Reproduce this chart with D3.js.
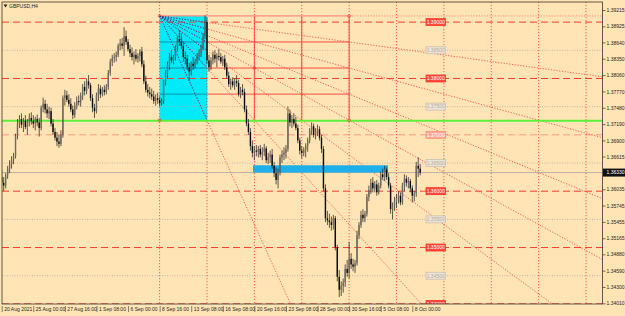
<!DOCTYPE html>
<html>
<head>
<meta charset="utf-8">
<script src="https://cdn.jsdelivr.net/npm/d3@7"></script>
<style>
  body { margin: 0; background: #ffe4b5; }
  svg { display: block; }
  text { font-family: "Liberation Sans", Arial, sans-serif; }
</style>
</head>
<body>
<script>
const WIDTH = 625;
const HEIGHT = 316;

// H4 bars, 20 Aug 2021 08:00 .. 8 Oct 2021 16:00 : [open, high, low, close]
const candles = [
  [1.3625,1.3638,1.3610,1.3615],[1.3615,1.3625,1.3600,1.3610],[1.3610,1.3632,1.3605,1.3628],[1.3628,1.3645,1.3622,1.3640],
  [1.3640,1.3655,1.3632,1.3648],[1.3648,1.3662,1.3640,1.3655],[1.3655,1.3668,1.3648,1.3662],[1.3662,1.3702,1.3658,1.3698],[1.3698,1.3728,1.3692,1.3720],[1.3720,1.3735,1.3712,1.3728],
  [1.3728,1.3738,1.3712,1.3718],[1.3718,1.3730,1.3705,1.3725],[1.3725,1.3735,1.3710,1.3714],[1.3714,1.3728,1.3700,1.3722],[1.3722,1.3738,1.3715,1.3730],[1.3730,1.3740,1.3718,1.3724],
  [1.3724,1.3735,1.3712,1.3720],[1.3720,1.3732,1.3708,1.3728],[1.3728,1.3736,1.3715,1.3722],[1.3722,1.3730,1.3697,1.3712],[1.3712,1.3752,1.3708,1.3748],[1.3748,1.3766,1.3740,1.3755],
  [1.3755,1.3762,1.3738,1.3745],[1.3745,1.3755,1.3730,1.3738],[1.3738,1.3750,1.3728,1.3742],[1.3742,1.3748,1.3715,1.3720],[1.3720,1.3728,1.3700,1.3705],[1.3705,1.3712,1.3690,1.3695],
  [1.3695,1.3705,1.3680,1.3688],[1.3688,1.3700,1.3677,1.3684],[1.3684,1.3708,1.3680,1.3700],[1.3700,1.3770,1.3695,1.3765],[1.3765,1.3780,1.3752,1.3770],[1.3770,1.3778,1.3758,1.3762],
  [1.3762,1.3772,1.3750,1.3755],[1.3755,1.3765,1.3740,1.3745],[1.3745,1.3752,1.3728,1.3735],[1.3735,1.3758,1.3730,1.3752],[1.3752,1.3768,1.3745,1.3760],[1.3760,1.3770,1.3752,1.3758],
  [1.3758,1.3775,1.3750,1.3770],[1.3770,1.3790,1.3762,1.3785],[1.3785,1.3795,1.3770,1.3778],[1.3778,1.3800,1.3772,1.3795],[1.3795,1.3806,1.3782,1.3788],[1.3788,1.3792,1.3760,1.3765],
  [1.3765,1.3772,1.3740,1.3748],[1.3748,1.3755,1.3730,1.3742],[1.3742,1.3775,1.3738,1.3770],[1.3770,1.3790,1.3760,1.3782],[1.3782,1.3788,1.3765,1.3772],[1.3772,1.3785,1.3768,1.3780],
  [1.3780,1.3788,1.3770,1.3776],[1.3776,1.3790,1.3772,1.3785],[1.3785,1.3815,1.3780,1.3810],[1.3810,1.3835,1.3805,1.3830],[1.3830,1.3842,1.3822,1.3836],[1.3836,1.3845,1.3828,1.3838],
  [1.3838,1.3848,1.3830,1.3842],[1.3842,1.3862,1.3838,1.3858],[1.3858,1.3870,1.3850,1.3862],[1.3862,1.3872,1.3852,1.3858],[1.3858,1.3891,1.3840,1.3875],[1.3875,1.3885,1.3860,1.3865],
  [1.3865,1.3870,1.3848,1.3852],[1.3852,1.3860,1.3838,1.3845],[1.3845,1.3855,1.3832,1.3838],[1.3838,1.3848,1.3825,1.3842],[1.3842,1.3852,1.3830,1.3835],[1.3835,1.3845,1.3828,1.3840],
  [1.3840,1.3852,1.3830,1.3848],[1.3848,1.3856,1.3820,1.3825],[1.3825,1.3832,1.3790,1.3795],[1.3795,1.3805,1.3775,1.3780],[1.3780,1.3790,1.3768,1.3775],[1.3775,1.3785,1.3765,1.3772],
  [1.3772,1.3782,1.3762,1.3768],[1.3768,1.3778,1.3755,1.3760],[1.3760,1.3772,1.3752,1.3765],[1.3765,1.3775,1.3755,1.3762],[1.3762,1.3768,1.3750,1.3756],[1.3756,1.3765,1.3752,1.3760],
  [1.3760,1.3798,1.3755,1.3795],[1.3795,1.3815,1.3788,1.3810],[1.3810,1.3830,1.3800,1.3825],[1.3825,1.3845,1.3815,1.3838],[1.3838,1.3850,1.3828,1.3832],[1.3832,1.3842,1.3825,1.3838],
  [1.3838,1.3860,1.3832,1.3855],[1.3855,1.3875,1.3848,1.3870],[1.3870,1.3886,1.3858,1.3865],[1.3865,1.3880,1.3852,1.3858],[1.3858,1.3865,1.3830,1.3838],[1.3838,1.3848,1.3825,1.3835],
  [1.3835,1.3842,1.3815,1.3820],[1.3820,1.3828,1.3797,1.3812],[1.3812,1.3830,1.3805,1.3826],[1.3826,1.3838,1.3815,1.3822],[1.3822,1.3835,1.3818,1.3830],[1.3830,1.3845,1.3825,1.3840],
  [1.3840,1.3852,1.3832,1.3845],[1.3845,1.3860,1.3838,1.3855],[1.3855,1.3880,1.3850,1.3875],[1.3875,1.3912,1.3870,1.3900],[1.3900,1.3908,1.3825,1.3832],[1.3832,1.3842,1.3812,1.3820],
  [1.3820,1.3838,1.3815,1.3832],[1.3832,1.3848,1.3825,1.3842],[1.3842,1.3850,1.3828,1.3835],[1.3835,1.3845,1.3820,1.3840],[1.3840,1.3852,1.3832,1.3838],[1.3838,1.3845,1.3826,1.3830],
  [1.3830,1.3840,1.3822,1.3835],[1.3835,1.3842,1.3815,1.3820],[1.3820,1.3828,1.3800,1.3805],[1.3805,1.3812,1.3785,1.3790],[1.3790,1.3800,1.3780,1.3795],[1.3795,1.3802,1.3784,1.3788],
  [1.3788,1.3800,1.3780,1.3795],[1.3795,1.3806,1.3785,1.3792],[1.3792,1.3798,1.3768,1.3772],[1.3772,1.3785,1.3765,1.3780],[1.3780,1.3790,1.3770,1.3776],[1.3776,1.3782,1.3740,1.3745],
  [1.3745,1.3752,1.3715,1.3720],[1.3720,1.3728,1.3700,1.3705],[1.3705,1.3712,1.3672,1.3680],[1.3680,1.3690,1.3660,1.3668],[1.3668,1.3680,1.3655,1.3672],[1.3672,1.3682,1.3662,1.3670],
  [1.3670,1.3680,1.3660,1.3675],[1.3675,1.3682,1.3660,1.3665],[1.3665,1.3678,1.3655,1.3670],[1.3670,1.3684,1.3662,1.3676],[1.3676,1.3680,1.3650,1.3655],[1.3655,1.3668,1.3648,1.3660],
  [1.3660,1.3672,1.3650,1.3665],[1.3665,1.3675,1.3640,1.3645],[1.3645,1.3652,1.3625,1.3632],[1.3632,1.3642,1.3612,1.3620],[1.3620,1.3640,1.3605,1.3635],[1.3635,1.3665,1.3628,1.3660],
  [1.3660,1.3672,1.3650,1.3665],[1.3665,1.3678,1.3655,1.3668],[1.3668,1.3682,1.3658,1.3675],[1.3675,1.3750,1.3670,1.3738],[1.3738,1.3745,1.3715,1.3722],[1.3722,1.3735,1.3712,1.3728],
  [1.3728,1.3738,1.3715,1.3720],[1.3720,1.3732,1.3708,1.3712],[1.3712,1.3718,1.3685,1.3690],[1.3690,1.3695,1.3665,1.3672],[1.3672,1.3680,1.3658,1.3668],[1.3668,1.3678,1.3662,1.3674],
  [1.3674,1.3685,1.3660,1.3680],[1.3680,1.3695,1.3670,1.3690],[1.3690,1.3712,1.3685,1.3708],[1.3708,1.3722,1.3700,1.3715],[1.3715,1.3720,1.3695,1.3700],[1.3700,1.3712,1.3692,1.3705],
  [1.3705,1.3718,1.3698,1.3710],[1.3710,1.3715,1.3690,1.3695],[1.3695,1.3700,1.3668,1.3675],[1.3675,1.3680,1.3600,1.3605],[1.3605,1.3612,1.3545,1.3552],[1.3552,1.3565,1.3540,1.3548],
  [1.3548,1.3560,1.3535,1.3545],[1.3545,1.3555,1.3530,1.3540],[1.3540,1.3558,1.3532,1.3552],[1.3552,1.3556,1.3495,1.3500],[1.3500,1.3505,1.3440,1.3448],[1.3448,1.3460,1.3412,1.3425],
  [1.3425,1.3440,1.3414,1.3432],[1.3432,1.3445,1.3420,1.3438],[1.3438,1.3470,1.3430,1.3462],[1.3462,1.3478,1.3448,1.3455],[1.3455,1.3510,1.3445,1.3480],[1.3480,1.3490,1.3462,1.3470],
  [1.3470,1.3480,1.3458,1.3466],[1.3466,1.3478,1.3455,1.3472],[1.3472,1.3530,1.3468,1.3522],[1.3522,1.3545,1.3515,1.3540],[1.3540,1.3565,1.3535,1.3558],[1.3558,1.3568,1.3545,1.3552],
  [1.3552,1.3565,1.3545,1.3560],[1.3560,1.3595,1.3555,1.3590],[1.3590,1.3610,1.3582,1.3602],[1.3602,1.3622,1.3595,1.3615],[1.3615,1.3625,1.3598,1.3605],[1.3605,1.3618,1.3598,1.3612],
  [1.3612,1.3620,1.3592,1.3598],[1.3598,1.3615,1.3594,1.3610],[1.3610,1.3635,1.3605,1.3630],[1.3630,1.3640,1.3620,1.3625],[1.3625,1.3645,1.3618,1.3638],[1.3638,1.3642,1.3620,1.3625],
  [1.3625,1.3632,1.3605,1.3610],[1.3610,1.3615,1.3560,1.3568],[1.3568,1.3580,1.3550,1.3575],[1.3575,1.3590,1.3565,1.3582],[1.3582,1.3595,1.3570,1.3588],[1.3588,1.3600,1.3578,1.3592],
  [1.3592,1.3598,1.3575,1.3580],[1.3580,1.3615,1.3576,1.3610],[1.3610,1.3630,1.3600,1.3622],[1.3622,1.3628,1.3608,1.3615],[1.3615,1.3625,1.3605,1.3618],[1.3618,1.3622,1.3598,1.3605],
  [1.3605,1.3610,1.3580,1.3592],[1.3592,1.3600,1.3582,1.3596],[1.3596,1.3652,1.3590,1.3645],[1.3645,1.3660,1.3625,1.3640],[1.3640,1.3648,1.3628,1.3633]
];

const timeLabels = ['20 Aug 2021', '25 Aug 00:00', '27 Aug 16:00', '1 Sep 08:00', '6 Sep 00:00', '8 Sep 16:00',
  '13 Sep 08:00', '16 Sep 08:00', '20 Sep 16:00', '23 Sep 08:00', '28 Sep 00:00', '30 Sep 16:00', '5 Oct 08:00', '8 Oct 00:00'];
const BARS_PER_LABEL = 16;

const priceTicks = [1.39215, 1.38925, 1.38640, 1.38350, 1.38060, 1.37770, 1.37480, 1.37190, 1.36900, 1.36615,
  1.36035, 1.35745, 1.35455, 1.35165, 1.34880, 1.34590, 1.34300, 1.34010];
const roundLevels = [1.39, 1.38, 1.37, 1.36, 1.35, 1.34];
const halfLevels = [1.385, 1.375, 1.365, 1.355, 1.345];
const supportLevel = 1.3725;
const lastPrice = 1.36330;

// gann box: bars and prices
const boxStart = 80, boxEnd = 104, boxExt = 176;
const boxHigh = 1.3911, boxLow = 1.3726;
const cycleBars = [80, 104, 128, 152, 176, 200, 224, 248, 272, 296];
const bandBars = [127.3, 195.7];
const bandPrices = [1.3646, 1.3633];

const PLOT_L = 2, PLOT_R = 602.5, PLOT_T = 2, PLOT_B = 304;

let x = d3.scaleLinear().domain([0, 208]).range([1.7, 412.3]);
let y = d3.scaleLinear().domain([1.33998, 1.39357]).range([PLOT_B, PLOT_T]);

let svg = d3.select('body').append('svg')
  .attr('width', WIDTH).attr('height', HEIGHT);

svg.append('rect').attr('width', WIDTH).attr('height', HEIGHT).attr('fill', '#ffe4b5');

let defs = svg.append('defs');
defs.append('clipPath').attr('id', 'plot')
  .append('rect').attr('x', PLOT_L).attr('y', PLOT_T).attr('width', PLOT_R - PLOT_L).attr('height', PLOT_B - PLOT_T);
defs.append('clipPath').attr('id', 'cyan')
  .append('rect').attr('x', x(boxStart)).attr('y', y(boxHigh))
  .attr('width', x(boxEnd) - x(boxStart)).attr('height', y(boxLow) - y(boxHigh));

let plot = svg.append('g').attr('clip-path', 'url(#plot)');

// cyan part of the box
plot.append('rect')
  .attr('x', x(boxStart)).attr('y', y(boxHigh))
  .attr('width', x(boxEnd) - x(boxStart)).attr('height', y(boxLow) - y(boxHigh))
  .attr('fill', '#00eaf8');

// grid of price levels
plot.selectAll('line.half').data(halfLevels).enter().append('line')
  .attr('x1', PLOT_L).attr('x2', PLOT_R)
  .attr('y1', d => y(d)).attr('y2', d => y(d))
  .attr('stroke', '#b4aca0').attr('stroke-width', 0.8).attr('stroke-dasharray', '1,1.5');

plot.selectAll('line.round').data(roundLevels).enter().append('line')
  .attr('x1', PLOT_L).attr('x2', PLOT_R)
  .attr('y1', d => y(d)).attr('y2', d => y(d))
  .attr('stroke', d => d === 1.37 ? '#ff9a86' : '#ff3a30').attr('stroke-width', 1)
  .attr('stroke-dasharray', '7,4');

// cycle verticals
plot.selectAll('line.cycle').data(cycleBars).enter().append('line')
  .attr('x1', d => x(d)).attr('x2', d => x(d))
  .attr('y1', PLOT_T).attr('y2', PLOT_B)
  .attr('stroke', '#ff3a3a').attr('stroke-width', 0.8).attr('stroke-dasharray', '1.2,1.8');

// box extension (solid red)
let qLevels = [1, 2, 3].map(k => boxHigh - k * (boxHigh - boxLow) / 4);
plot.selectAll('line.q').data(qLevels).enter().append('line')
  .attr('x1', x(boxEnd)).attr('x2', x(boxExt))
  .attr('y1', d => y(d)).attr('y2', d => y(d))
  .attr('stroke', '#ff3a3a').attr('stroke-width', 0.9);
plot.selectAll('line.qc').data(qLevels).enter().append('line')
  .attr('x1', x(boxStart)).attr('x2', x(boxEnd))
  .attr('y1', d => y(d)).attr('y2', d => y(d))
  .attr('stroke', '#0a8aa8').attr('stroke-width', 0.9);
plot.selectAll('line.bv').data([128, 152, 176]).enter().append('line')
  .attr('x1', d => x(d)).attr('x2', d => x(d))
  .attr('y1', y(boxHigh)).attr('y2', y(boxLow))
  .attr('stroke', '#ff3a3a').attr('stroke-width', 0.9);
plot.append('line')
  .attr('x1', x(boxStart)).attr('x2', x(boxExt))
  .attr('y1', y(boxHigh)).attr('y2', y(boxHigh))
  .attr('stroke', '#ff8c84').attr('stroke-width', 1.3);
plot.append('line')
  .attr('x1', x(boxExt)).attr('x2', PLOT_R)
  .attr('y1', y(boxHigh)).attr('y2', y(boxHigh))
  .attr('stroke', '#ff8c84').attr('stroke-width', 1).attr('stroke-dasharray', '1.2,1.5');

// fan lines from the top-left corner of the box
let fanTargets = [1, 2, 3, 4].map(k => [boxExt, boxHigh - k * (boxHigh - boxLow) / 4])
  .concat([1, 2, 3].map(k => [boxStart + 24 * k, boxLow]));
let ox = x(boxStart), oy = y(boxHigh);
let fanEnd = d => [ox + (x(d[0]) - ox) * 12, oy + (y(d[1]) - oy) * 12];

plot.selectAll('line.fan').data(fanTargets).enter().append('line')
  .attr('x1', ox).attr('y1', oy)
  .attr('x2', d => fanEnd(d)[0]).attr('y2', d => fanEnd(d)[1])
  .attr('stroke', '#ff3a3a').attr('stroke-width', 0.8).attr('stroke-dasharray', '1.2,1.6');
svg.append('g').attr('clip-path', 'url(#cyan)')
  .selectAll('line').data(fanTargets).enter().append('line')
  .attr('x1', ox).attr('y1', oy)
  .attr('x2', d => fanEnd(d)[0]).attr('y2', d => fanEnd(d)[1])
  .attr('stroke', '#1a3a9a').attr('stroke-width', 0.8).attr('stroke-dasharray', '1.2,1.6');

// current price line
plot.append('line')
  .attr('x1', PLOT_L).attr('x2', PLOT_R)
  .attr('y1', y(lastPrice)).attr('y2', y(lastPrice))
  .attr('stroke', '#b8b2a8').attr('stroke-width', 1);

// blue zone band
plot.append('rect')
  .attr('x', x(bandBars[0])).attr('y', y(bandPrices[0]))
  .attr('width', x(bandBars[1]) - x(bandBars[0]))
  .attr('height', y(bandPrices[1]) - y(bandPrices[0]))
  .attr('fill', '#1fb0ea');

// support line
plot.append('line')
  .attr('x1', PLOT_L).attr('x2', PLOT_R)
  .attr('y1', y(supportLevel)).attr('y2', y(supportLevel))
  .attr('stroke', '#5cf03a').attr('stroke-width', 1.8);

// handles
let handles = [[boxStart, boxHigh], [boxStart, boxLow], [128, qLevels[1]], [boxExt, boxHigh], [boxExt, boxLow]];
plot.selectAll('circle.h').data(handles).enter().append('circle')
  .attr('cx', d => x(d[0])).attr('cy', d => y(d[1])).attr('r', 1.4)
  .attr('fill', 'none').attr('stroke', '#ff3a3a').attr('stroke-width', 0.7);

// candles
let bars = plot.append('g');
bars.selectAll('line.w').data(candles).enter().append('line')
  .attr('x1', (d, i) => x(i)).attr('x2', (d, i) => x(i))
  .attr('y1', d => y(d[1])).attr('y2', d => y(d[2]))
  .attr('stroke', '#1a1a1a').attr('stroke-width', 0.7);
bars.selectAll('rect').data(candles).enter().append('rect')
  .attr('x', (d, i) => x(i) - 0.7).attr('width', 1.4)
  .attr('y', d => y(Math.max(d[0], d[3])))
  .attr('height', d => Math.max(0.6, Math.abs(y(d[0]) - y(d[3]))))
  .attr('fill', d => d[3] >= d[0] ? '#6e6a64' : '#0a0a0a');

// level labels
let labelX = 426;
let allLabels = roundLevels.map(v => ({ v, red: true })).concat(halfLevels.map(v => ({ v, red: false })));
let lab = svg.append('g').attr('clip-path', 'url(#plot)');
lab.selectAll('rect').data(allLabels).enter().append('rect')
  .attr('x', labelX).attr('y', d => y(d.v) - 3.5).attr('width', 19.5).attr('height', 7)
  .attr('fill', d => d.red ? (d.v === 1.37 ? '#ffa898' : '#ff4a3c') : '#ede4d6')
  .attr('stroke', d => d.red ? (d.v === 1.37 ? '#ff8a7a' : '#ff2a20') : '#c4bcb0')
  .attr('stroke-width', 0.7);
lab.selectAll('text').data(allLabels).enter().append('text')
  .attr('x', labelX + 9.75).attr('y', d => y(d.v) + 1.8)
  .attr('text-anchor', 'middle').attr('font-size', 5)
  .attr('fill', d => d.red ? '#ffffff' : '#b4aca0')
  .text(d => d3.format('.5f')(d.v));

// frame
svg.append('rect')
  .attr('x', PLOT_L).attr('y', PLOT_T)
  .attr('width', PLOT_R - PLOT_L).attr('height', PLOT_B - PLOT_T)
  .attr('fill', 'none').attr('stroke', '#3a3630').attr('stroke-width', 0.8);

// price axis
let yAxis = d3.axisRight(y).tickValues(priceTicks).tickSize(3).tickFormat(d3.format('.5f'));
let ya = svg.append('g').attr('transform', `translate(${PLOT_R},0)`).call(yAxis);
ya.select('.domain').remove();
ya.selectAll('line').attr('stroke', '#3a3630').attr('stroke-width', 0.7);
ya.selectAll('text').attr('x', 4).attr('font-size', 5).attr('fill', '#2a2622')
  .attr('font-family', '"Liberation Sans", Arial, sans-serif');

svg.append('rect')
  .attr('x', PLOT_R + 0.5).attr('y', y(lastPrice) - 4).attr('width', 22).attr('height', 8)
  .attr('fill', '#111');
svg.append('text')
  .attr('x', PLOT_R + 4).attr('y', y(lastPrice) + 1.8)
  .attr('font-size', 5).attr('fill', '#fff')
  .text(d3.format('.5f')(lastPrice));

// time axis
let tickIdx = timeLabels.map((d, i) => i * BARS_PER_LABEL);
let xAxis = d3.axisBottom(x).tickValues(tickIdx).tickSize(8)
  .tickFormat((d, i) => timeLabels[i]);
let xa = svg.append('g').attr('transform', `translate(0,${PLOT_B})`).call(xAxis);
xa.select('.domain').remove();
xa.selectAll('line').attr('stroke', '#3a3630').attr('stroke-width', 0.6).attr('y1', 2);
xa.selectAll('text').attr('text-anchor', 'start').attr('x', 2).attr('y', 3.5)
  .attr('font-size', 5).attr('fill', '#2a2622')
  .attr('font-family', '"Liberation Sans", Arial, sans-serif');

// title
svg.append('path').attr('d', 'M3.5,4.5 L7.5,4.5 L5.5,7.5 Z').attr('fill', '#222');
svg.append('text').attr('x', 9).attr('y', 8).attr('font-size', 5).attr('fill', '#222')
  .text('GBPUSD,H4');
</script>
</body>
</html>
